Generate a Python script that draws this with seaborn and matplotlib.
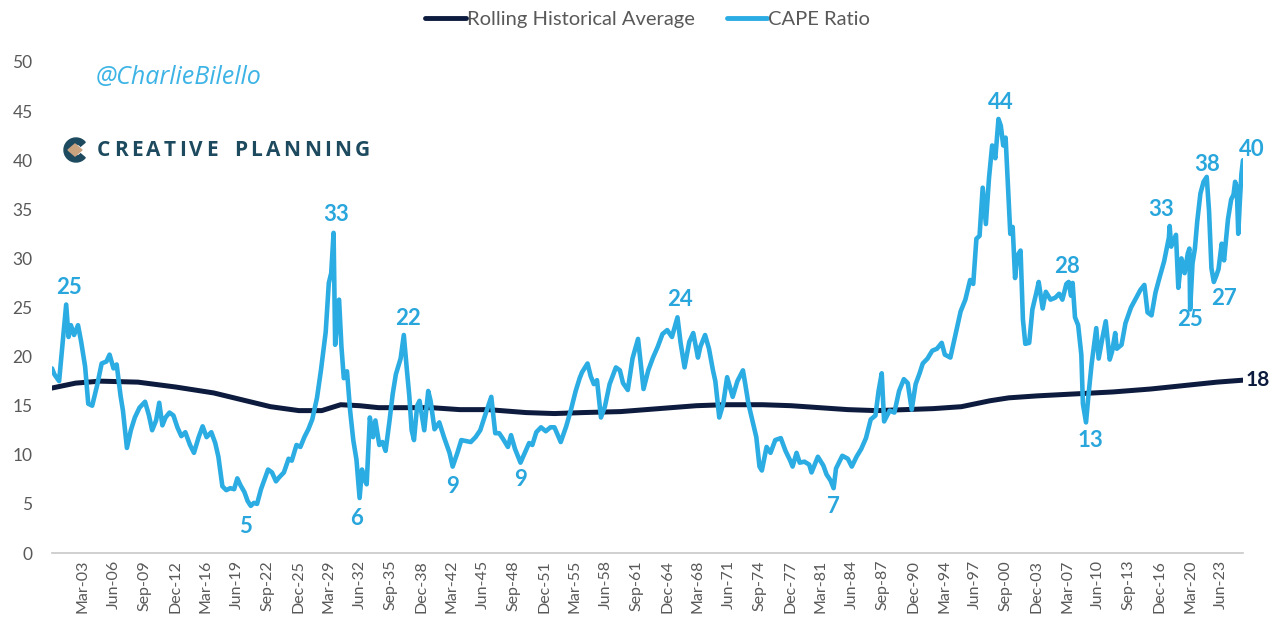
import matplotlib
matplotlib.use("Agg")
import matplotlib.pyplot as plt
from matplotlib.patches import Wedge, Polygon
import numpy as np
import pandas as pd
import seaborn as sns

# ---------------- data ----------------
cape_dates = [
    "1899-12","1900-03","1900-09","1901-01","1901-06","1901-09","1901-12","1902-04","1902-09","1903-01",
    "1903-06","1903-10","1904-03","1904-09","1905-03","1905-09","1906-01","1906-06","1906-10","1907-03",
    "1907-06","1907-11","1908-04","1908-09","1909-03","1909-10","1910-03","1910-07","1910-12","1911-04",
    "1911-08","1911-12","1912-05","1912-10","1913-03","1913-08","1914-01","1914-07","1914-12","1915-06",
    "1915-11","1916-04","1916-10","1917-03","1917-07","1917-12","1918-05","1918-10","1919-03","1919-07",
    "1919-11","1920-04","1920-08","1920-12","1921-04","1921-08","1922-01","1922-06","1922-10","1923-03",
    "1923-08","1923-12","1924-06","1924-12","1925-04","1925-10","1926-03","1926-08","1927-01","1927-06",
    "1927-12","1928-05","1928-11","1929-03","1929-06","1929-09","1929-11","1930-04","1930-07","1930-10",
    "1931-02","1931-06","1931-10","1932-02","1932-06","1932-09","1932-12","1933-03","1933-07","1933-11",
    "1934-02","1934-07","1934-11","1935-03","1935-08","1935-12","1936-04","1936-10","1937-02","1937-06",
    "1937-09","1937-12","1938-03","1938-07","1938-10","1939-04","1939-09","1939-12","1940-05","1940-11",
    "1941-05","1941-12","1942-04","1942-10","1943-03","1943-09","1944-03","1944-09","1945-03","1945-09",
    "1946-05","1946-10","1947-03","1947-08","1948-02","1948-06","1948-11","1949-06","1949-12","1950-05",
    "1950-09","1951-02","1951-08","1952-02","1952-08","1953-01","1953-09","1954-04","1954-10","1955-04",
    "1955-09","1955-12","1956-07","1956-11","1957-03","1957-07","1957-12","1958-05","1958-11","1959-07",
    "1959-12","1960-04","1960-10","1961-04","1961-11","1962-06","1962-12","1963-06","1963-12","1964-06",
    "1964-12","1965-06","1966-01","1966-05","1966-10","1967-04","1967-09","1968-03","1968-06","1968-12",
    "1969-05","1969-10","1970-01","1970-06","1970-11","1971-04","1971-11","1972-05","1972-12","1973-03",
    "1973-07","1973-12","1974-05","1974-09","1974-12","1975-06","1975-11","1976-05","1976-12","1977-06",
    "1977-12","1978-03","1978-08","1978-12","1979-06","1979-12","1980-03","1980-11","1981-06","1981-10",
    "1982-03","1982-07","1982-10","1983-06","1984-01","1984-06","1984-12","1985-06","1985-12","1986-06",
    "1986-12","1987-04","1987-08","1987-11","1988-06","1988-12","1989-06","1989-12","1990-05","1990-10",
    "1991-03","1991-08","1991-12","1992-06","1992-12","1993-06","1993-12","1994-04","1994-11","1995-06",
    "1995-12","1996-06","1996-12","1997-04","1997-08","1997-12","1998-04","1998-08","1998-12","1999-04",
    "1999-08","1999-12","2000-03","2000-06","2000-09","2000-12","2001-03","2001-06","2001-09","2001-12",
    "2002-04","2002-07","2002-10","2003-03","2003-07","2003-12","2004-03","2004-08","2004-12","2005-06",
    "2005-12","2006-05","2006-09","2007-02","2007-05","2007-08","2007-10","2008-01","2008-05","2008-09",
    "2008-11","2009-03","2009-06","2009-10","2010-04","2010-07","2010-12","2011-04","2011-09","2011-12",
    "2012-04","2012-06","2012-12","2013-05","2013-12","2014-06","2014-12","2015-05","2015-09","2016-02",
    "2016-07","2016-12","2017-06","2017-12","2018-01","2018-03","2018-09","2018-12","2019-04","2019-08",
    "2019-12","2020-02","2020-03","2020-06","2020-09","2020-12","2021-04","2021-08","2021-12","2022-03",
    "2022-06","2022-09","2022-12","2023-03","2023-07","2023-10","2023-12","2024-03","2024-07","2024-10",
    "2024-12","2025-02","2025-04","2025-06","2025-08","2025-10",
]
cape_values = [
    18.8, 18.2, 17.5, 21.0, 25.3, 22.0, 23.2, 22.2, 23.2, 21.5,
    19.0, 15.2, 15.0, 17.0, 19.3, 19.5, 20.2, 18.8, 19.2, 16.0,
    14.5, 10.7, 12.5, 13.8, 14.8, 15.4, 14.0, 12.5, 13.5, 15.3,
    13.0, 13.8, 14.3, 14.0, 12.8, 11.9, 12.3, 11.0, 10.2, 11.8,
    12.9, 11.8, 12.3, 11.2, 9.8, 6.8, 6.4, 6.6, 6.5, 7.6,
    6.9, 6.2, 5.3, 4.8, 5.1, 5.0, 6.5, 7.6, 8.5, 8.2,
    7.3, 7.7, 8.2, 9.6, 9.4, 11.0, 10.8, 11.8, 12.6, 13.6,
    15.8, 18.6, 22.5, 27.5, 28.5, 32.6, 21.2, 25.8, 21.0, 17.8,
    18.5, 14.5, 11.5, 9.5, 5.6, 8.5, 7.5, 7.0, 13.8, 11.8,
    13.5, 11.0, 11.3, 10.4, 13.5, 16.2, 18.2, 19.8, 22.2, 18.6,
    16.0, 12.5, 11.5, 15.0, 15.5, 12.5, 16.5, 15.5, 12.6, 13.3,
    11.8, 10.2, 8.8, 10.2, 11.5, 11.4, 11.3, 11.8, 12.5, 14.0,
    15.9, 12.2, 12.2, 11.6, 10.8, 12.0, 10.6, 9.2, 10.3, 11.2,
    11.0, 12.3, 12.8, 12.4, 12.8, 12.8, 11.3, 12.9, 14.6, 16.5,
    17.8, 18.4, 19.3, 18.0, 17.2, 17.6, 13.8, 14.9, 17.2, 18.9,
    18.6, 17.3, 16.6, 19.8, 21.8, 16.7, 18.6, 19.9, 21.0, 22.3,
    22.7, 22.0, 24.0, 21.4, 18.9, 21.5, 22.4, 19.9, 21.0, 22.2,
    20.8, 18.6, 17.5, 13.8, 15.2, 17.9, 15.9, 17.5, 18.6, 17.2,
    15.2, 13.5, 11.8, 8.8, 8.4, 10.8, 10.2, 11.5, 11.7, 10.4,
    9.4, 8.8, 10.2, 9.2, 9.3, 9.0, 8.2, 9.8, 8.9, 8.0,
    7.4, 6.6, 8.6, 9.9, 9.6, 8.8, 9.8, 10.6, 11.7, 13.6,
    14.0, 16.5, 18.3, 13.4, 14.5, 14.3, 16.5, 17.7, 17.3, 14.6,
    17.2, 18.3, 19.3, 19.8, 20.6, 20.8, 21.4, 20.2, 19.9, 22.4,
    24.6, 25.8, 27.8, 27.4, 32.0, 32.3, 37.2, 33.5, 38.2, 41.5,
    40.2, 44.2, 43.5, 41.5, 42.3, 37.3, 32.5, 33.2, 28.0, 30.3,
    30.8, 23.8, 21.3, 21.4, 24.8, 26.5, 27.6, 24.9, 26.6, 25.8,
    26.0, 26.4, 25.8, 27.4, 27.6, 26.2, 27.5, 24.0, 23.2, 20.2,
    15.2, 13.3, 16.0, 19.2, 22.9, 19.8, 22.0, 23.6, 19.7, 20.5,
    22.4, 20.8, 21.2, 23.4, 25.0, 25.9, 26.8, 27.3, 24.5, 24.2,
    26.5, 28.0, 29.7, 32.1, 33.3, 31.2, 32.4, 27.0, 30.0, 28.5,
    30.5, 31.0, 24.8, 29.5, 31.0, 33.8, 36.6, 37.8, 38.3, 34.8,
    29.0, 27.6, 28.2, 28.9, 31.5, 29.8, 31.5, 34.0, 36.0, 36.5,
    37.8, 37.3, 32.5, 35.8, 38.6, 40.0,
]
avg_dates = [
    "1899-12","1902-06","1905-01","1909-01","1913-01","1917-01","1920-01","1923-01","1926-01","1928-06",
    "1930-06","1932-06","1934-06","1937-06","1940-01","1943-01","1946-01","1950-01","1953-01","1956-01",
    "1960-01","1964-01","1968-01","1971-01","1975-01","1978-01","1981-01","1984-01","1987-01","1990-01",
    "1993-01","1996-01","1999-01","2001-01","2004-01","2008-01","2012-01","2016-01","2020-01","2023-01",
    "2025-10",
]
avg_values = [
    16.8, 17.3, 17.5, 17.4, 16.9, 16.3, 15.6, 14.9, 14.5, 14.5,
    15.1, 15.0, 14.8, 14.8, 14.8, 14.6, 14.6, 14.3, 14.2, 14.3,
    14.4, 14.7, 15.0, 15.1, 15.1, 15.0, 14.8, 14.6, 14.5, 14.6,
    14.7, 14.9, 15.5, 15.8, 16.0, 16.2, 16.4, 16.7, 17.1, 17.4,
    17.6,
]
# annotated extremes
ann_dates = ["1901-06","1929-09","1937-02","1966-01","1999-12","2007-10","2018-01","2021-12","2025-10",
             "1920-12","1932-06","1942-04","1949-06","1982-07","2009-03","2020-03","2022-09"]
ann_labels = ["25","33","22","24","44","28","33","38","40","5","6","9","9","7","13","25","27"]
ann_offsets = [(2,12),(2,13),(3,12),(2,13),(2,12),(-4,12),(-6,12),(0,9),(6,8),
               (-4,-15),(-2,-15),(0,-14),(0,-12),(0,-13),(3,-13),(0,-7),(7,-12)]
avg_end_label = "18"
y_ticks = [0, 5, 10, 15, 20, 25, 30, 35, 40, 45, 50]

# ---------------- build frames ----------------
cape_df = pd.DataFrame({"date": pd.to_datetime(cape_dates), "value": cape_values})
avg_df = pd.DataFrame({"date": pd.to_datetime(avg_dates), "value": avg_values})

CAPE_COL = "#2BACE2"
AVG_COL = "#0D1B3E"
LABEL_COL = "#29A6DC"
TXT_COL = "#595959"

sns.set_theme(style="white")
plt.rcParams["font.family"] = ["Lato", "DejaVu Sans"]

fig = plt.figure(figsize=(12.74, 6.29), dpi=100)
ax = fig.add_axes([52/1274, 1-553/629, (1243-52)/1274, (553-62)/629])

sns.lineplot(data=avg_df, x="date", y="value", ax=ax, color=AVG_COL, linewidth=3.6,
             label="Rolling Historical Average")
sns.lineplot(data=cape_df, x="date", y="value", ax=ax, color=CAPE_COL, linewidth=3.3,
             label="CAPE Ratio")

ax.set_xlim(cape_df["date"].min(), cape_df["date"].max())
ax.set_ylim(0, 50)
ax.set_yticks(y_ticks)
ax.set_xlabel("")
ax.set_ylabel("")

tick_dates = pd.date_range("1903-03-01", periods=38, freq="39MS")
ax.set_xticks(tick_dates)
ax.set_xticklabels([d.strftime("%b-%y") for d in tick_dates], rotation=90, fontsize=11.5, color=TXT_COL)
ax.tick_params(axis="y", labelsize=12.5, labelcolor=TXT_COL, length=0, pad=14)
ax.tick_params(axis="x", length=0, pad=5)

for s in ["top", "right", "left"]:
    ax.spines[s].set_visible(False)
ax.spines["bottom"].set_color("#C8C8C8")
ax.spines["bottom"].set_linewidth(1.2)
ax.grid(False)

# annotations
for d, lab, off in zip(ann_dates, ann_labels, ann_offsets):
    dt = pd.Timestamp(d)
    v = cape_df.loc[cape_df["date"] == dt, "value"].iloc[0]
    ax.annotate(lab, xy=(dt, v), xytext=off, textcoords="offset points",
                ha="center", va="center", fontsize=16, fontweight="bold", color=LABEL_COL,
                annotation_clip=False)
ax.annotate(avg_end_label, xy=(avg_df["date"].iloc[-1], avg_df["value"].iloc[-1]), xytext=(2, 0),
            textcoords="offset points", ha="left", va="center", fontsize=15, fontweight="bold",
            color=AVG_COL, annotation_clip=False)

# legend
leg = ax.legend(loc="upper center", bbox_to_anchor=(0.5, 1.14), ncol=2, frameon=False,
                fontsize=14.5, handlelength=2.0, handletextpad=0.05, columnspacing=1.6)
for t in leg.get_texts():
    t.set_color(TXT_COL)
for h in leg.get_lines():
    h.set_linewidth(3.5)

# watermark
fig.text(96/1274, 1-78/629, "@CharlieBilello", fontsize=18, style="italic", color="#3DB4E5",
         ha="left", va="center", family=["Open Sans", "DejaVu Sans"])

# logo text with letter tracking
fig.canvas.draw()
renderer = fig.canvas.get_renderer()
logo_word = "CREATIVE PLANNING"
xpos = 97
for ch in logo_word:
    t = fig.text(xpos/1274, 1-151/629, ch, fontsize=15, fontweight="bold", color="#1D4A5E",
                 ha="left", va="center", family=["Open Sans", "DejaVu Sans"])
    w = t.get_window_extent(renderer).width if ch != " " else 9
    xpos += w + 3.4
# small "C" logo mark
cx, cy = 76, 150
ring = Wedge((cx, 629-cy), 12, 40, 320, width=6, transform=None, color="#1D4A5E")
fig.patches.append(ring)
diamond = Polygon([(cx-1, 629-cy+6), (cx+6, 629-cy), (cx-1, 629-cy-6), (cx-8, 629-cy)],
                  closed=True, transform=None, color="#C9A27E")
fig.patches.append(diamond)

fig.savefig("out.png", dpi=100)
